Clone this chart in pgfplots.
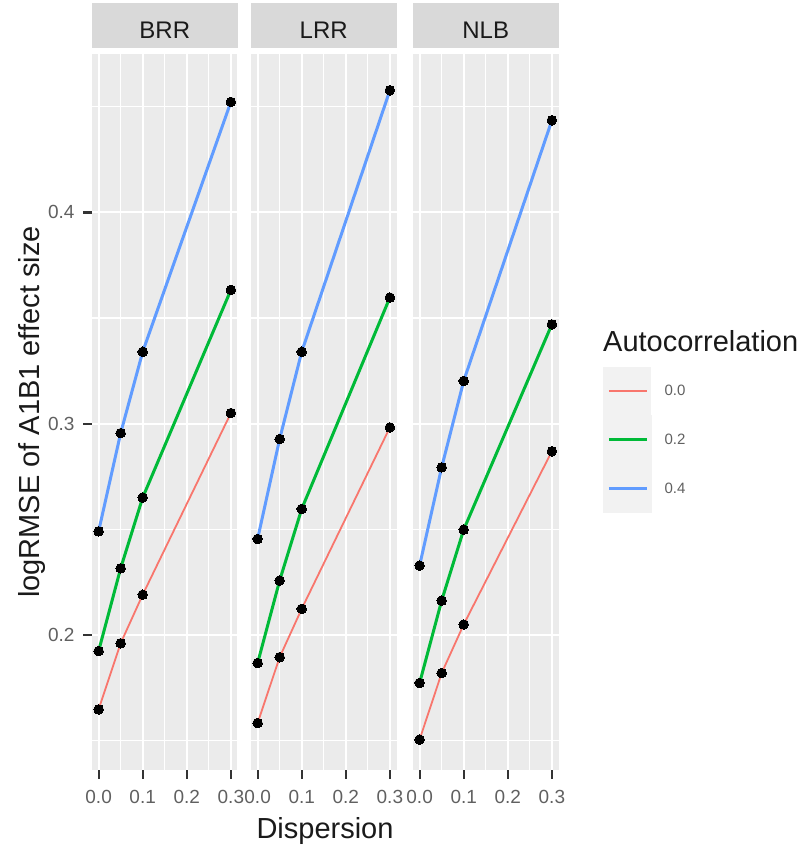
\documentclass[border=0pt]{standalone}
\usepackage{pgfplots}
\pgfplotsset{compat=1.18}
\usepackage{fontspec}
\setmainfont{Liberation Sans}
\definecolor{panelgray}{HTML}{EBEBEB}
\definecolor{stripgray}{HTML}{D9D9D9}
\definecolor{keybg}{HTML}{F2F2F2}
\definecolor{cred}{HTML}{F8766D}
\definecolor{cgreen}{HTML}{00BA38}
\definecolor{cblue}{HTML}{619CFF}
\definecolor{ticktext}{HTML}{606060}
\definecolor{tickdark}{HTML}{333333}
\definecolor{textdark}{HTML}{1A1A1A}
\pgfplotsset{
  facet/.style={
    at={(#1,80bp)}, anchor=south west, scale only axis,
    width=145.5bp, height=716bp,
    xmin=-0.015, xmax=0.315, ymin=0.136, ymax=0.475,
    axis background/.style={fill=panelgray},
    axis line style={draw=none},
    xtick={0,0.1,0.2,0.3}, minor xtick={0.05,0.15,0.25},
    ytick={0.2,0.3,0.4}, minor ytick={0.15,0.25,0.35,0.45},
    grid=both,
    major grid style={white, line width=2bp},
    minor grid style={white, line width=1.2bp},
    tick align=outside, xtick pos=left, ytick pos=left,
    major tick length=9bp, minor tick length=0pt,
    every tick/.style={tickdark, line width=2.2bp},
    /pgf/number format/.cd, fixed, fixed zerofill, precision=1, assume math mode=true, /pgfplots/.cd,
    tick label style={font=\fontsize{19bp}{22bp}\selectfont, text=ticktext},
    xticklabel style={yshift=-8bp},
    yticklabel style={xshift=-5bp},
    title style={at={(0.5,1)}, anchor=south, yshift=0pt, fill=stripgray,
      minimum width=145.5bp, minimum height=45bp, inner sep=0pt,
      text height=27bp, text depth=0pt, text=textdark,
      font=\fontsize{24bp}{26bp}\selectfont},
    clip=false,
  },
  redline/.style={cred, line width=1.8bp, mark=*, mark size=4.8bp, mark options={fill=black, draw=black, solid, line width=0pt}},
  greenline/.style={cgreen, line width=3bp, mark=*, mark size=4.8bp, mark options={fill=black, draw=black, solid, line width=0pt}},
  blueline/.style={cblue, line width=3bp, mark=*, mark size=4.8bp, mark options={fill=black, draw=black, solid, line width=0pt}},
}
\begin{document}
\begin{tikzpicture}
\useasboundingbox (0,0) rectangle (806bp,850bp);
% BRR
\begin{axis}[facet=92bp, title={BRR}]
\addplot[redline] coordinates {(0,0.1647)(0.05,0.1960)(0.1,0.2190)(0.3,0.3050)};
\addplot[greenline] coordinates {(0,0.1923)(0.05,0.2315)(0.1,0.2650)(0.3,0.3633)};
\addplot[blueline] coordinates {(0,0.2490)(0.05,0.2955)(0.1,0.3340)(0.3,0.4523)};
\end{axis}
% LRR
\begin{axis}[facet=251bp, title={LRR}, yticklabels={}, ytick style={draw=none}]
\addplot[redline] coordinates {(0,0.1582)(0.05,0.1894)(0.1,0.2123)(0.3,0.2982)};
\addplot[greenline] coordinates {(0,0.1866)(0.05,0.2257)(0.1,0.2596)(0.3,0.3597)};
\addplot[blueline] coordinates {(0,0.2454)(0.05,0.2927)(0.1,0.3340)(0.3,0.4578)};
\end{axis}
% NLB
\begin{axis}[facet=413bp, title={NLB}, yticklabels={}, ytick style={draw=none},
  legend cell align=left,
  legend style={at={(axis description cs:1.3014,0.5628)}, anchor=north west,
    draw=none, fill=none, inner sep=0pt, row sep=0pt, column sep=13bp,
    font=\fontsize{15bp}{17bp}\selectfont, text=ticktext,
    nodes={inner sep=0pt}},
  legend image code/.code={
    \fill[keybg] (-4.7bp,-23bp) rectangle (41.3bp,23bp);
    \draw[#1, mark=none] (0bp,0bp) -- (38bp,0bp);
  }]
\addplot[redline] coordinates {(0,0.1504)(0.05,0.1819)(0.1,0.2049)(0.3,0.2869)};
\addlegendentry{0.0}
\addplot[greenline] coordinates {(0,0.1772)(0.05,0.2162)(0.1,0.2498)(0.3,0.3470)};
\addlegendentry{0.2}
\addplot[blueline] coordinates {(0,0.2328)(0.05,0.2793)(0.1,0.3202)(0.3,0.4436)};
\addlegendentry{0.4}
\end{axis}
\node[rotate=90, anchor=base, text=textdark, font=\fontsize{29bp}{32bp}\selectfont] at (39bp,438bp) {logRMSE of A1B1 effect size};
\node[anchor=base, text=textdark, font=\fontsize{29bp}{32bp}\selectfont] at (325bp,12bp) {Dispersion};
\node[anchor=base west, text=textdark, font=\fontsize{29bp}{32bp}\selectfont, inner sep=0pt] at (603bp,498bp) {Autocorrelation};
\end{tikzpicture}
\end{document}
